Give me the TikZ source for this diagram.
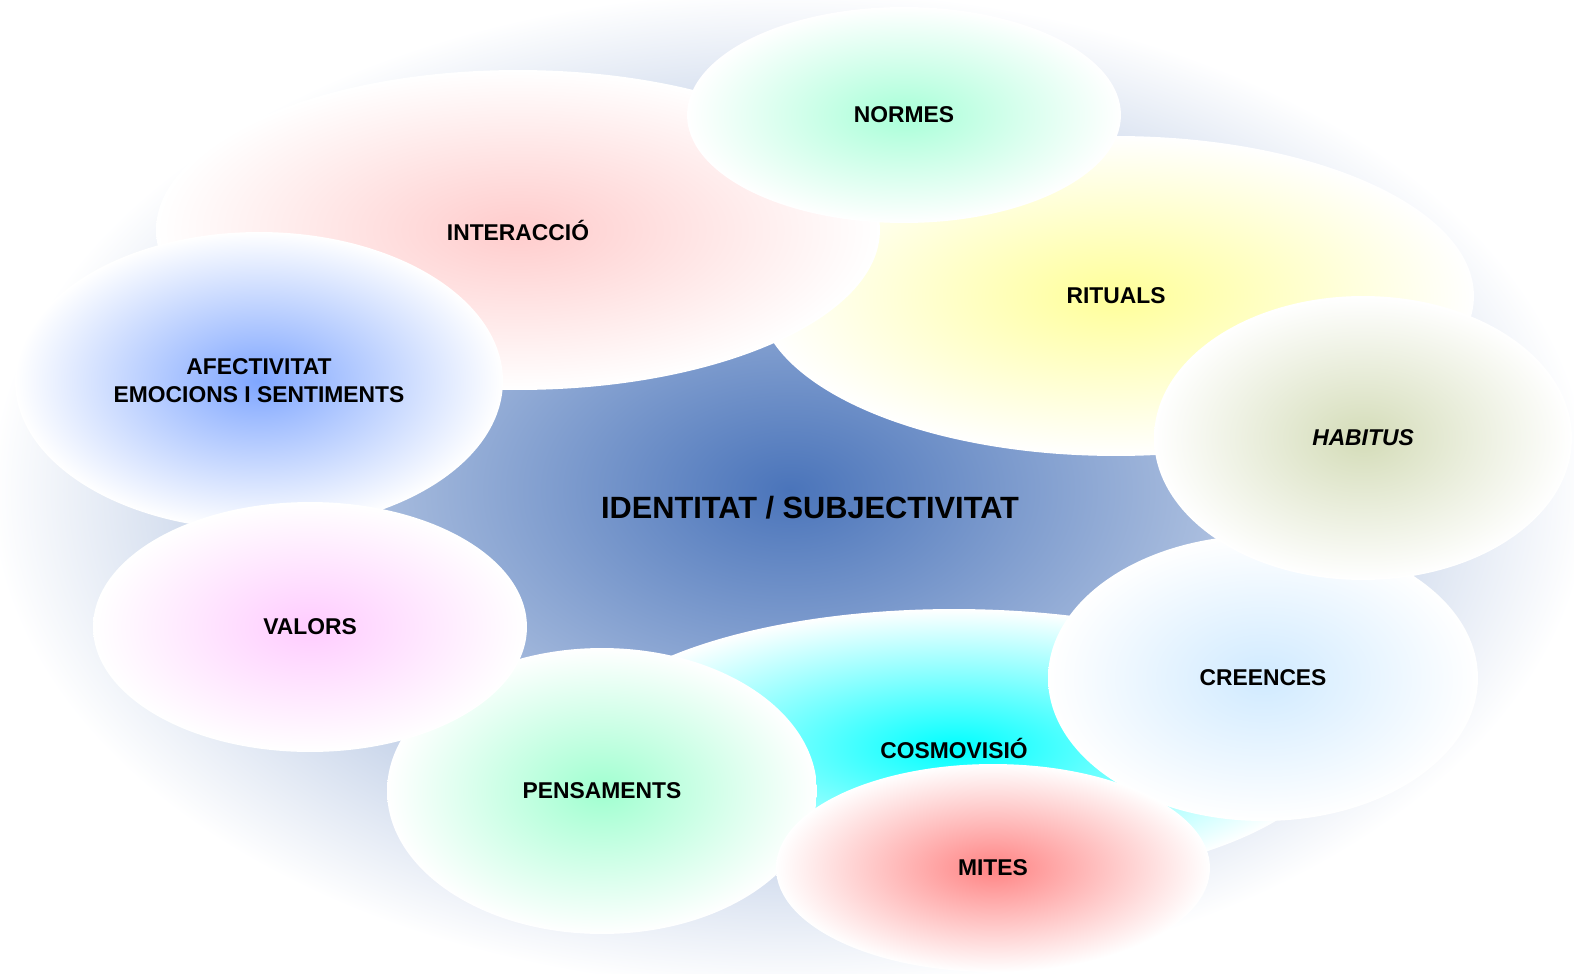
\documentclass[tikz,border=0pt]{standalone}
\usepackage{fontspec}
\setmainfont{Liberation Sans}
\usetikzlibrary{shapes.geometric}

\definecolor{idblue}{HTML}{4A74BA}
\definecolor{interpink}{HTML}{FFCCCC}
\definecolor{normgreen}{HTML}{A8FFD8}
\definecolor{rityellow}{HTML}{FFFF99}
\definecolor{habolive}{HTML}{D4DCB8}
\definecolor{afecblue}{HTML}{7FA6FF}
\definecolor{valpink}{HTML}{FFCCFF}
\definecolor{pensgreen}{HTML}{A0FFD0}
\definecolor{cosmocyan}{HTML}{00FFFF}
\definecolor{mitred}{HTML}{FF8484}
\definecolor{creeblue}{HTML}{D0EAFF}

\begin{document}
\begin{tikzpicture}[x=0.02cm, y=-0.02cm,
	bubble/.style n args={3}{ellipse, inner sep=0pt, minimum width=#1, minimum height=#2,
		inner color=#3, outer color=white, align=center,
		font=\bfseries\fontsize{13}{16}\selectfont},
	title/.style={font=\bfseries\fontsize{17.5}{21}\selectfont}]
	\useasboundingbox (0,0) rectangle (1574,973);

	% background
	\node[bubble={32cm}{20cm}{idblue}] (fons) at (790,490) {};
	\node[title] (identitat) at (810,508) {IDENTITAT / SUBJECTIVITAT};

	% upper ring
	\node[bubble={14.32cm}{6.4cm}{rityellow}] (rituals) at (1116,296) {RITUALS};
	\node[bubble={14.48cm}{6.4cm}{interpink}] (interaccio) at (518,230) {INTERACCIÓ};
	\node[bubble={8.68cm}{4.32cm}{normgreen}] (normes) at (904,115) {NORMES};
	\node[bubble={9.76cm}{5.96cm}{afecblue}] (afectivitat) at (259,381) {AFECTIVITAT\\EMOCIONS I SENTIMENTS};

	% lower ring
	\node[bubble={15.12cm}{5.56cm}{cosmocyan}] (cosmovisio) at (954,748) {COSMOVISIÓ};
	\node[bubble={8.6cm}{5.72cm}{creeblue}] (creences) at (1263,678) {CREENCES};
	\node[bubble={8.36cm}{5.68cm}{habolive}] (habitus) at (1363,438) {\textit{HABITUS}};
	\node[bubble={8.6cm}{5.72cm}{pensgreen}] (pensaments) at (602,791) {PENSAMENTS};
	\node[bubble={8.68cm}{5cm}{valpink}] (valors) at (310,627) {VALORS};
	\node[bubble={8.68cm}{4.16cm}{mitred}] (mites) at (993,868) {MITES};
\end{tikzpicture}
\end{document}
